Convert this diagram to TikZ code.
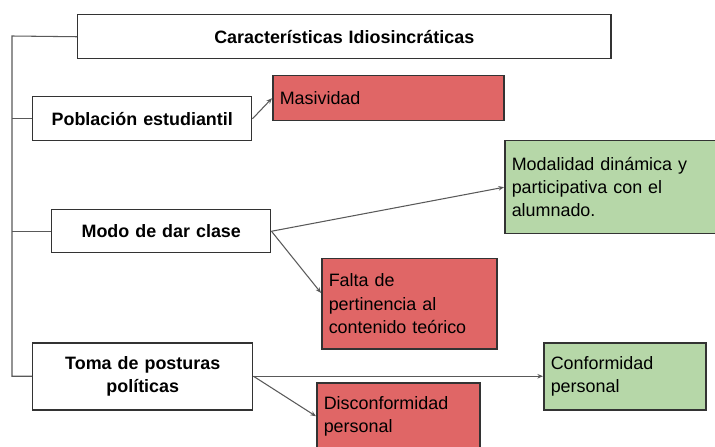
\documentclass[tikz,border=0pt]{standalone}
\usepackage{fontspec}
\setmainfont{Liberation Sans}
\usepackage{xcolor}
\usepackage{tikz}
\usetikzlibrary{arrows.meta}

\definecolor{rojo}{HTML}{E06666}
\definecolor{verde}{HTML}{B6D7A8}
\definecolor{borde}{HTML}{333333}

\begin{document}
\begin{tikzpicture}[x=0.02cm, y=-0.02cm,
  caja/.style={draw=borde, line width=0.85pt, anchor=north west, inner xsep=0.14cm, inner ysep=0pt,
    font=\fontsize{10.2}{13.2}\selectfont},
  tema/.style={caja, fill=white, align=center, font=\fontsize{10.2}{13.2}\selectfont\bfseries},
  nota/.style={caja, align=left},
  rama/.style={draw=black!65, line width=0.6pt},
  flecha/.style={rama, -{Stealth[length=3.2pt, width=2.6pt]}}]
\useasboundingbox (0,0) rectangle (715,446);
\node[tema, text width=519*0.02cm, minimum height=44*0.02cm] (titulo) at (77,14) {Características Idiosincráticas};
\node[tema, text width=205*0.02cm, minimum height=44*0.02cm] (poblacion) at (32,96) {Población estudiantil};
\node[tema, text width=205*0.02cm, minimum height=43*0.02cm] (modo) at (51,209) {Modo de dar clase};
\node[tema, text width=206*0.02cm, minimum height=67*0.02cm] (toma) at (32,342) {Toma de posturas\\políticas};
\node[nota, fill=rojo, text width=217*0.02cm, minimum height=45*0.02cm] (masividad) at (272,75) {Masividad};
\node[nota, fill=verde, text width=206*0.02cm, minimum height=93*0.02cm] (modalidad) at (504,140) {Modalidad dinámica y\\participativa con el\\alumnado.};
\node[nota, fill=rojo, text width=161*0.02cm, minimum height=90*0.02cm] (falta) at (321,258) {Falta de\\pertinencia al\\contenido teórico};
\node[nota, fill=verde, text width=148*0.02cm, minimum height=67*0.02cm] (conformidad) at (543,342) {Conformidad\\personal};
\node[nota, fill=rojo, text width=149*0.02cm, minimum height=67*0.02cm] (disconformidad) at (316,382) {Disconformidad\\personal};
\coordinate (arriba) at (12,36);
\coordinate (abajo) at (12,376);
\draw[rama] (titulo.west) -- (arriba) -- (abajo |- toma.west) -- (toma.west);
\draw[rama] (poblacion.west) -- (poblacion.west -| arriba);
\draw[rama] (modo.west) -- (modo.west -| arriba);
\draw[flecha] (poblacion.east) -- (masividad.west);
\draw[flecha] (modo.east) -- (modalidad.west);
\draw[flecha] (modo.east) -- (falta.173);
\draw[flecha] (toma.east) -- (conformidad.west);
\draw[flecha] (toma.east) -- (disconformidad.west);
\end{tikzpicture}
\end{document}
